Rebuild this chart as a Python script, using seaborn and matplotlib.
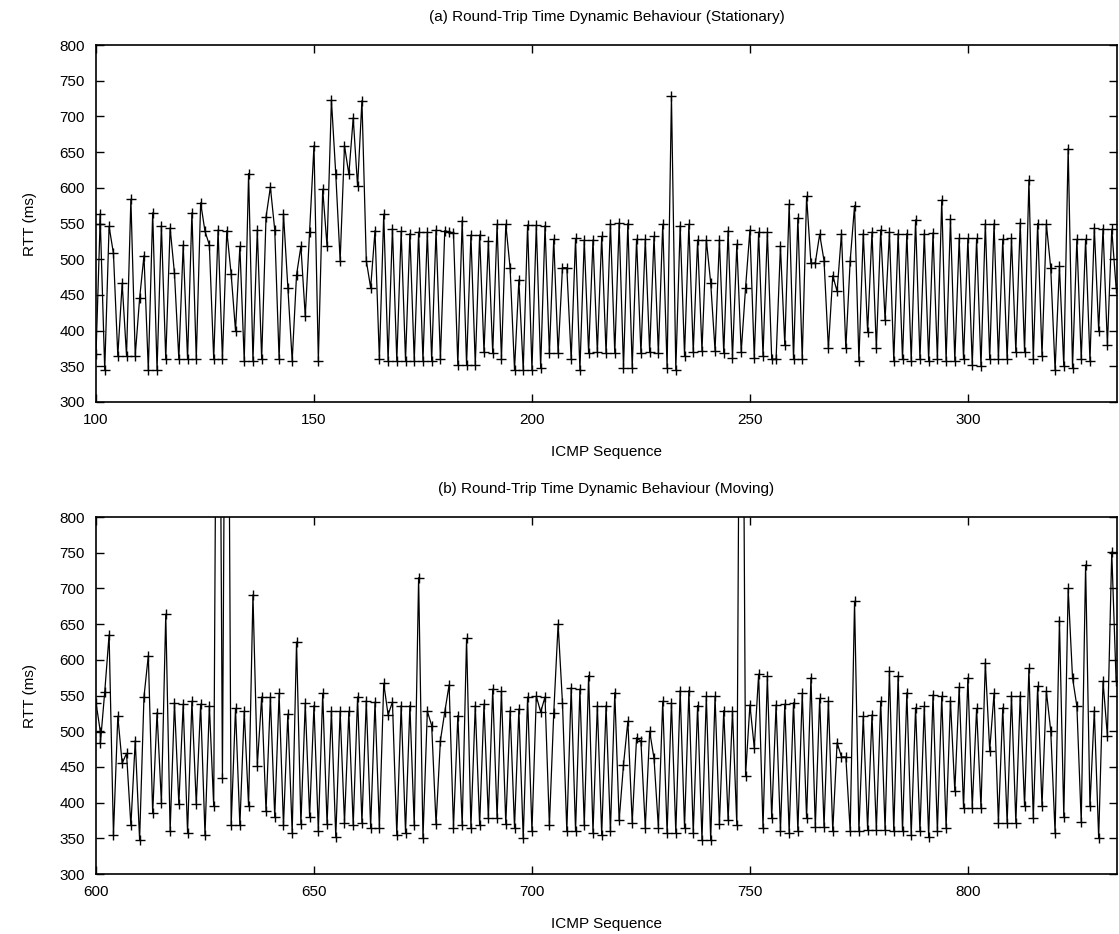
import matplotlib
matplotlib.use("Agg")
import matplotlib.pyplot as plt
import seaborn as sns
import pandas as pd

# ---- data: (a) stationary ----
seq_a = [100, 101, 101, 102, 103, 104, 105, 106, 107, 108, 109, 110, 111, 112, 113, 114, 115, 116, 117, 118, 119,
         120, 121, 122, 123, 124, 125, 126, 127, 128, 129, 130, 131, 132, 133, 134, 135, 136, 137, 138, 139,
         140, 141, 142, 143, 144, 145, 146, 147, 148, 149, 150, 151, 152, 153, 154, 155, 156, 157, 158, 159,
         160, 161, 162, 163, 164, 165, 166, 167, 168, 169, 170, 171, 172, 173, 174, 175, 176, 177, 178, 179,
         180, 181, 182, 183, 184, 185, 186, 187, 188, 189, 190, 191, 192, 193, 194, 195, 196, 197, 198, 199,
         200, 201, 202, 203, 204, 205, 206, 207, 208, 209, 210, 211, 212, 213, 214, 215, 216, 217, 218, 219,
         220, 221, 222, 223, 224, 225, 226, 227, 228, 229, 230, 231, 232, 233, 234, 235, 236, 237, 238, 239,
         240, 241, 242, 243, 244, 245, 246, 247, 248, 249, 250, 251, 252, 253, 254, 255, 256, 257, 258, 259,
         260, 261, 262, 263, 264, 265, 266, 267, 268, 269, 270, 271, 272, 273, 274, 275, 276, 277, 278, 279,
         280, 281, 282, 283, 284, 285, 286, 287, 288, 289, 290, 291, 292, 293, 294, 295, 296, 297, 298, 299,
         300, 301, 302, 303, 304, 305, 306, 307, 308, 309, 310, 311, 312, 313, 314, 315, 316, 317, 318, 319,
         320, 321, 322, 323, 324, 325, 326, 327, 328, 329, 330, 331, 332, 333, 334]
rtt_a = [367, 564, 550, 345, 546, 508, 365, 466, 365, 584, 365, 445, 505, 345, 565, 345, 547, 360, 544, 480, 360,
         520, 360, 565, 360, 579, 539, 520, 360, 541, 360, 540, 479, 400, 518, 358, 620, 358, 541, 360, 559,
         601, 541, 360, 564, 460, 358, 478, 518, 420, 538, 659, 358, 598, 518, 723, 619, 498, 659, 619, 698,
         602, 722, 498, 460, 540, 360, 563, 358, 543, 358, 539, 358, 536, 358, 538, 358, 538, 358, 541, 360,
         540, 538, 537, 352, 554, 352, 534, 352, 534, 370, 526, 368, 549, 360, 549, 487, 345, 471, 345, 548,
         345, 548, 348, 547, 368, 528, 368, 488, 488, 360, 529, 345, 527, 368, 527, 370, 532, 368, 550, 368,
         551, 348, 550, 348, 528, 368, 528, 370, 532, 368, 549, 348, 728, 345, 547, 365, 549, 370, 527, 372,
         527, 467, 372, 527, 368, 540, 362, 521, 370, 460, 541, 362, 538, 365, 538, 360, 360, 518, 380, 577,
         360, 558, 360, 588, 494, 495, 535, 498, 375, 477, 455, 536, 375, 498, 575, 358, 536, 398, 538, 375,
         541, 415, 538, 358, 536, 360, 536, 358, 555, 360, 536, 358, 537, 360, 583, 358, 556, 358, 529, 360,
         529, 352, 529, 350, 550, 360, 550, 360, 528, 360, 529, 370, 551, 370, 611, 360, 550, 365, 549, 488,
         345, 490, 350, 655, 348, 528, 360, 528, 358, 544, 400, 543, 380, 542, 460]

# ---- data: (b) moving ----
seq_b = [600, 601, 601, 602, 603, 604, 605, 606, 607, 608, 609, 610, 611, 612, 613, 614, 615, 616, 617, 618, 619,
         620, 621, 622, 623, 624, 625, 626, 627, 628, 629, 630, 631, 632, 633, 634, 635, 636, 637, 638, 639,
         640, 641, 642, 643, 644, 645, 646, 647, 648, 649, 650, 651, 652, 653, 654, 655, 656, 657, 658, 659,
         660, 661, 662, 663, 664, 665, 666, 667, 668, 669, 670, 671, 672, 673, 674, 675, 676, 677, 678, 679,
         680, 681, 682, 683, 684, 685, 686, 687, 688, 689, 690, 691, 692, 693, 694, 695, 696, 697, 698, 699,
         700, 701, 702, 703, 704, 705, 706, 707, 708, 709, 710, 711, 712, 713, 714, 715, 716, 717, 718, 719,
         720, 721, 722, 723, 724, 725, 726, 727, 728, 729, 730, 731, 732, 733, 734, 735, 736, 737, 738, 739,
         740, 741, 742, 743, 744, 745, 746, 747, 748, 749, 750, 751, 752, 753, 754, 755, 756, 757, 758, 759,
         760, 761, 762, 763, 764, 765, 766, 767, 768, 769, 770, 771, 772, 773, 774, 775, 776, 777, 778, 779,
         780, 781, 782, 783, 784, 785, 786, 787, 788, 789, 790, 791, 792, 793, 794, 795, 796, 797, 798, 799,
         800, 801, 802, 803, 804, 805, 806, 807, 808, 809, 810, 811, 812, 813, 814, 815, 816, 817, 818, 819,
         820, 821, 822, 823, 824, 825, 826, 827, 828, 829, 830, 831, 832, 833, 834]
rtt_b = [540, 499, 483, 555, 635, 355, 521, 455, 469, 368, 487, 348, 548, 606, 385, 526, 400, 664, 360, 540, 398,
         538, 358, 542, 398, 538, 355, 536, 395, 1500, 435, 1500, 368, 532, 368, 528, 395, 691, 452, 548, 388,
         548, 380, 553, 368, 524, 358, 625, 370, 539, 380, 536, 360, 553, 370, 528, 352, 528, 372, 528, 368,
         548, 372, 543, 365, 541, 365, 567, 523, 541, 355, 536, 358, 536, 368, 715, 350, 528, 508, 370, 487,
         527, 565, 365, 522, 368, 630, 365, 536, 368, 538, 378, 559, 378, 556, 370, 529, 365, 531, 350, 548,
         360, 549, 527, 548, 368, 526, 650, 540, 360, 561, 360, 559, 368, 578, 358, 536, 355, 536, 360, 554,
         375, 453, 514, 372, 491, 486, 365, 500, 462, 365, 542, 358, 540, 358, 557, 365, 557, 357, 536, 348,
         549, 348, 549, 370, 529, 375, 528, 368, 1500, 438, 537, 477, 580, 365, 577, 378, 537, 360, 538, 358,
         540, 360, 553, 378, 575, 366, 546, 366, 543, 360, 484, 464, 464, 360, 682, 360, 521, 362, 523, 362,
         542, 362, 584, 360, 578, 360, 554, 355, 533, 360, 535, 352, 551, 360, 549, 365, 543, 416, 562, 393,
         575, 393, 532, 393, 596, 473, 553, 372, 533, 372, 550, 372, 550, 395, 588, 378, 563, 395, 556, 501,
         358, 655, 380, 700, 575, 535, 373, 733, 395, 529, 350, 570, 493, 751, 570]

titles = ["(a) Round-Trip Time Dynamic Behaviour (Stationary)",
          "(b) Round-Trip Time Dynamic Behaviour (Moving)"]
xlims = [(100, 334.2), (600, 834.2)]
xticks = [[100, 150, 200, 250, 300], [600, 650, 700, 750, 800]]
yticks = [300, 350, 400, 450, 500, 550, 600, 650, 700, 750, 800]

sns.set_theme(style="white")
plt.rcParams['font.family'] = ['Liberation Sans', 'DejaVu Sans']

fig = plt.figure(figsize=(11.19, 9.34), dpi=100)
axes = [fig.add_axes([0.0858, 0.5696, 0.9124, 0.3822]),
        fig.add_axes([0.0858, 0.0642, 0.9124, 0.3822])]

for ax, seq, rtt, title, xl, xt in zip(axes, [seq_a, seq_b], [rtt_a, rtt_b], titles, xlims, xticks):
    df = pd.DataFrame({"seq": seq, "rtt": rtt})
    sns.lineplot(data=df, x="seq", y="rtt", ax=ax, estimator=None, sort=False,
                 color="black", linewidth=0.9, marker="+", markersize=6.5,
                 markeredgewidth=1.0, markeredgecolor="black")
    ax.set_xlim(*xl)
    ax.set_ylim(300, 800)
    ax.set_xticks(xt)
    ax.set_yticks(yticks)
    ax.tick_params(direction="in", length=6, width=1, top=True, right=True,
                   bottom=True, left=True, labelsize=11, colors="black", pad=8)
    for s in ax.spines.values():
        s.set_color("black")
        s.set_linewidth(1.2)
    ax.set_title(title, fontsize=11, pad=17, color="black")
    ax.set_xlabel("ICMP Sequence", fontsize=11, labelpad=13, color="black")
    ax.set_ylabel("RTT (ms)", fontsize=11, labelpad=16, color="black")

fig.savefig("out.png", dpi=100)
